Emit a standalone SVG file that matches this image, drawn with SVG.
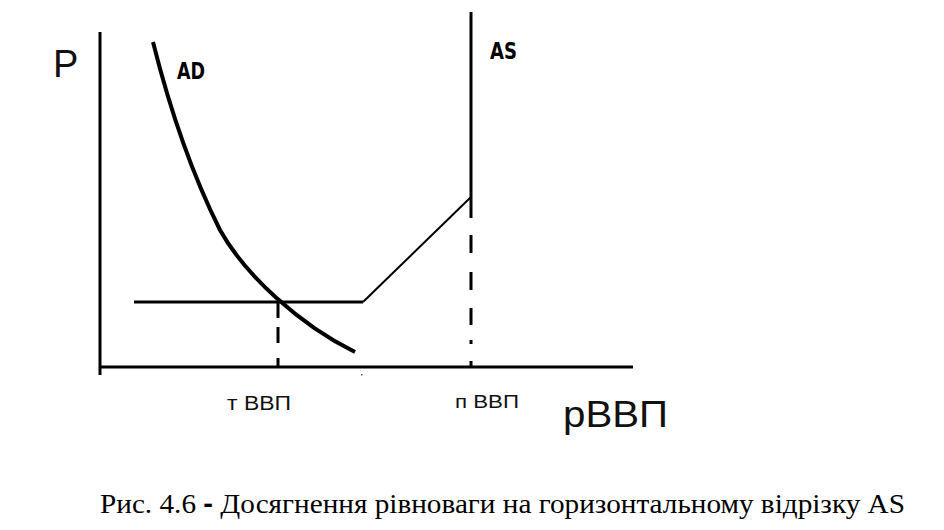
<svg xmlns="http://www.w3.org/2000/svg" width="944" height="530" viewBox="0 0 944 530">
<style>
.ln{fill:none;stroke:#000;stroke-linecap:butt}
.lbl{font-family:"Liberation Sans",Arial,sans-serif;fill:#111}
.bold{font-family:"DejaVu Sans","Liberation Sans",sans-serif;font-weight:bold;fill:#000}
.cap{font-family:"Liberation Serif","Times New Roman",serif;fill:#000}
</style>
<rect width="944" height="530" fill="#fff"/>
<g id="connectors">
<g id="axes">
<path class="ln" stroke-width="3" d="M100,32 V375"/>
<path class="ln" stroke-width="3" d="M100,367 H633"/>
</g>
<g id="ad-curve">
<path class="ln" stroke-width="4" stroke-linecap="round" d="M153,42 C165,90 185,160 220,230 C245,275 300,325 355,352"/>
</g>
<g id="as-curve">
<path class="ln" stroke-width="3" d="M134,302 H363"/>
<path class="ln" stroke-width="2" stroke-linejoin="round" d="M363,302 L471,197"/>
<path class="ln" stroke-width="3" d="M471,12 V218"/>
<path class="ln" stroke-width="3" d="M471,235 V253 M471,272 V290 M471,308 V325 M471,340 V344 M471,361 V367"/>
</g>
<g id="equilibrium-drop">
<path class="ln" stroke-width="3" d="M278,302 V318 M278,327 V343 M278,358 V367"/>
</g>
<rect x="361" y="374" width="1.5" height="1.5" fill="#555"/>
</g>
<g id="label-p"><text class="lbl" x="53" y="77" font-size="38">P</text></g>
<g id="label-ad"><text class="bold" x="177" y="79" font-size="23" textLength="28" lengthAdjust="spacingAndGlyphs">AD</text></g>
<g id="label-as"><text class="bold" x="490" y="59" font-size="23" textLength="27" lengthAdjust="spacingAndGlyphs">AS</text></g>
<g id="label-tvvp"><text class="lbl" x="227" y="410" font-size="20" textLength="64" lengthAdjust="spacingAndGlyphs">т ВВП</text></g>
<g id="label-pvvp"><text class="lbl" x="455" y="408" font-size="19" textLength="64" lengthAdjust="spacingAndGlyphs">п ВВП</text></g>
<g id="label-rvvp"><text class="lbl" x="563" y="427" font-size="36" textLength="105" lengthAdjust="spacingAndGlyphs">pВВП</text></g>
<g id="caption"><text class="cap" x="100" y="513" font-size="27" textLength="805" lengthAdjust="spacingAndGlyphs">Рис. 4.6 <tspan font-family="Liberation Sans, Arial, sans-serif" font-weight="bold">-</tspan> Досягнення рівноваги на горизонтальному відрізку AS</text></g>
</svg>
